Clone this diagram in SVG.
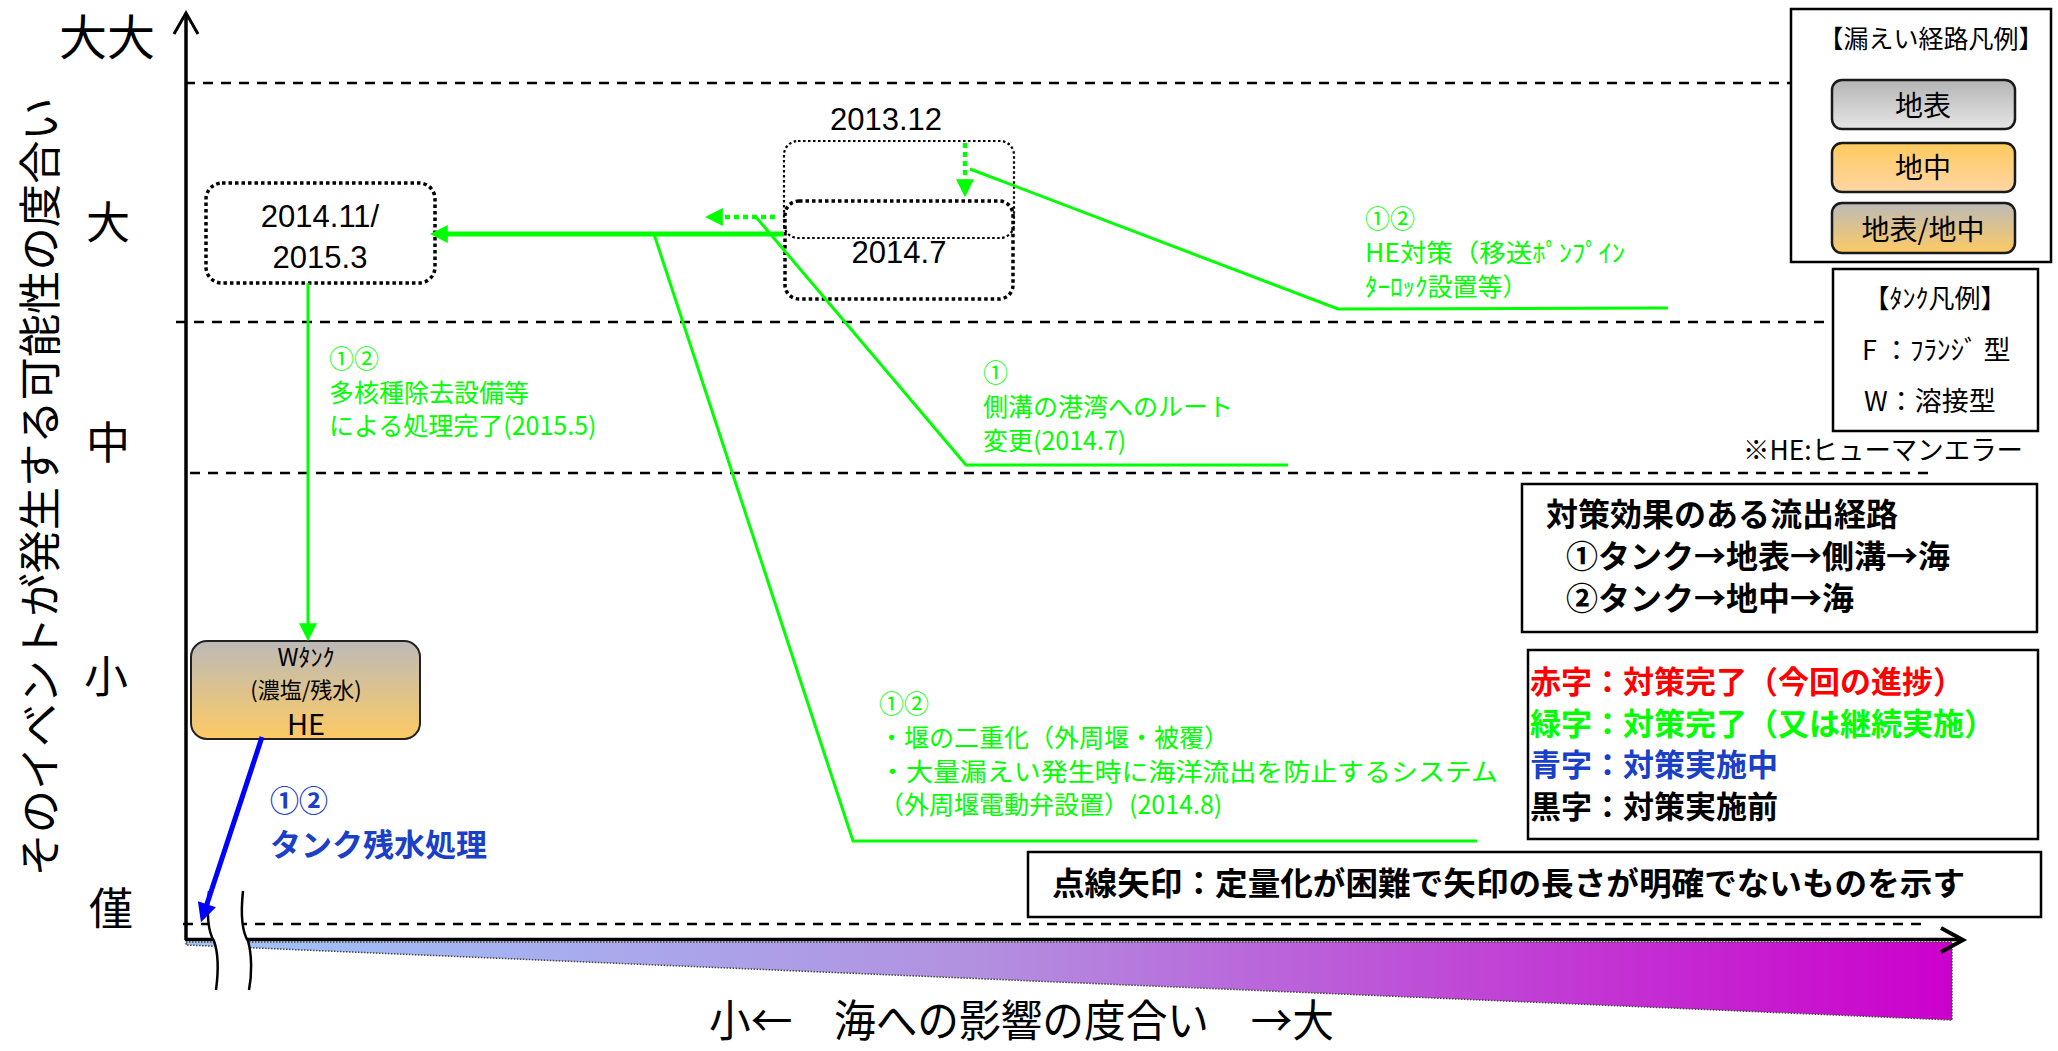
<svg xmlns="http://www.w3.org/2000/svg" width="2058" height="1051" viewBox="0 0 2058 1051">
<defs>
<style>
.jp{font-family:"Noto Sans CJK JP","Noto Sans",sans-serif}
.num{font-family:"Liberation Sans",Arial,sans-serif;font-size:31px;fill:#000;text-anchor:middle}
.grid{stroke:#000;stroke-width:2.5;stroke-dasharray:10 8;fill:none}
.g{fill:#00ff00}
.gl{stroke:#00ff00;stroke-width:3;fill:none}
.lbl{font-size:25px}
.axl{font-size:44px;fill:#000;text-anchor:middle;dominant-baseline:central}
.box{fill:#fff;stroke:#000;stroke-width:2.5}
.b{font-weight:bold}
.btn{stroke:#1a1a1a;stroke-width:2.5}
.btxt{font-size:28px;fill:#000;text-anchor:middle}
.dotA{fill:none;stroke:#000;stroke-width:2.2;stroke-dasharray:2.5 2.5}
.dotB{fill:none;stroke:#000;stroke-width:3.5;stroke-dasharray:3.5 3}
</style>
<linearGradient id="gGray" x1="0" y1="0" x2="0" y2="1"><stop offset="0" stop-color="#b4b4b4"/><stop offset="1" stop-color="#e6e6e6"/></linearGradient>
<linearGradient id="gOrange" x1="0" y1="0" x2="0" y2="1"><stop offset="0" stop-color="#ffca5c"/><stop offset="1" stop-color="#ffd6a6"/></linearGradient>
<linearGradient id="gMix" x1="0" y1="0" x2="0" y2="1"><stop offset="0" stop-color="#bcbab8"/><stop offset="1" stop-color="#fdca64"/></linearGradient>
<linearGradient id="gWedge" x1="186" y1="0" x2="1952" y2="0" gradientUnits="userSpaceOnUse"><stop offset="0" stop-color="#9ec6fa"/><stop offset="0.45" stop-color="#b290e0"/><stop offset="1" stop-color="#cc00cc"/></linearGradient>
<marker id="ag" viewBox="0 0 10 10" refX="1" refY="5" markerWidth="18" markerHeight="18" markerUnits="userSpaceOnUse" orient="auto"><path d="M0,0L10,5L0,10z" fill="#00ff00"/></marker>
<marker id="ab" viewBox="0 0 10 10" refX="1" refY="5" markerWidth="20" markerHeight="19" markerUnits="userSpaceOnUse" orient="auto"><path d="M0,0L10,5L0,10z" fill="#0000ff"/></marker>
</defs>
<rect width="2058" height="1051" fill="#fff"/>

<g id="axes">
<polygon points="186,942 1952,942 1952,1020 186,945" fill="url(#gWedge)" stroke="#444" stroke-width="1.5" stroke-dasharray="1.5 1.5"/>
<line x1="186" y1="14" x2="186" y2="940" stroke="#000" stroke-width="3.5"/>
<polyline points="174,34 186,13 198,34" fill="none" stroke="#000" stroke-width="3"/>
<line x1="185" y1="939.5" x2="1962" y2="939.5" stroke="#000" stroke-width="3.5"/>
<polyline points="1941,928 1963,940 1941,952" fill="none" stroke="#000" stroke-width="4"/>
<line class="grid" x1="185" y1="83" x2="1791" y2="83"/>
<line class="grid" x1="176" y1="322" x2="1832" y2="322"/>
<line class="grid" x1="190" y1="473" x2="1931" y2="473"/>
<line class="grid" x1="183" y1="924" x2="1927" y2="924"/>
<path d="M209,891 C207,910 207,930 214,941 C219,955 218,975 216,990 L249,990 C252,975 252,955 248,941 C241,930 241,910 243,891 Z" fill="#fff"/>
<path d="M209,891 C207,910 207,930 214,941 C219,955 218,975 216,990" fill="none" stroke="#000" stroke-width="2.5"/>
<path d="M243,891 C241,910 241,930 248,941 C252,955 252,975 249,990" fill="none" stroke="#000" stroke-width="2.5"/>
<text class="jp" font-size="43" fill="#000" transform="translate(37,487) rotate(-90)" text-anchor="middle" dominant-baseline="central" textLength="779" lengthAdjust="spacingAndGlyphs">そのイベントが発生する可能性の度合い</text>
<text class="jp" font-size="48" fill="#000" x="107" y="34" text-anchor="middle" dominant-baseline="central">大大</text>
<text class="jp axl" x="108" y="220">大</text>
<text class="jp axl" x="108" y="440">中</text>
<text class="jp axl" x="106" y="674">小</text>
<text class="jp axl" x="111" y="906">僅</text>
<text class="jp" font-size="44" fill="#000" x="709" y="1037" textLength="625" lengthAdjust="spacingAndGlyphs">小←　海への影響の度合い　→大</text>
</g>

<g id="node-2014-11">
<rect class="dotB" x="206" y="183" width="229" height="100" rx="16"/>
<text class="num" x="320" y="227">2014.11/</text>
<text class="num" x="320" y="268">2015.3</text>
</g>

<g id="node-2013-12">
<rect class="dotA" x="784" y="141" width="230" height="97" rx="14"/>
<text class="num" x="886" y="130">2013.12</text>
</g>

<g id="node-2014-7">
<rect class="dotB" x="785" y="201" width="228" height="98" rx="14"/>
<text class="num" x="899" y="263">2014.7</text>
</g>

<g id="node-wtank">
<rect x="191" y="641" width="229" height="98" rx="16" fill="url(#gMix)" stroke="#222" stroke-width="2"/>
<text class="jp" font-size="24" fill="#000" x="306" y="666" text-anchor="middle">Wﾀﾝｸ</text>
<text class="jp" font-size="22" fill="#000" x="306" y="698" text-anchor="middle">(濃塩/残水)</text>
<text class="jp" font-size="29" fill="#000" x="306" y="735" text-anchor="middle">HE</text>
</g>

<g id="connectors">
<line x1="784" y1="234" x2="446" y2="234" stroke="#00ff00" stroke-width="5" marker-end="url(#ag)"/>
<line x1="775" y1="217" x2="721" y2="217" stroke="#00ff00" stroke-width="4.5" stroke-dasharray="5 4" marker-end="url(#ag)"/>
<line x1="965" y1="143" x2="965" y2="181" stroke="#00ff00" stroke-width="4.5" stroke-dasharray="5 4" marker-end="url(#ag)"/>
<line x1="308" y1="283" x2="308" y2="625" stroke="#00ff00" stroke-width="3" marker-end="url(#ag)"/>
<polyline class="gl" points="970,169 1338,309 1668,308"/>
<polyline class="gl" points="756,217 966,465 1288,465"/>
<polyline class="gl" points="654,234 853,841 1477,841"/>
<line x1="262" y1="737" x2="206.3" y2="906" stroke="#0000ff" stroke-width="5" marker-end="url(#ab)"/>
</g>

<g id="label-he">
<text class="jp lbl g" x="1365" y="228">①②</text>
<text class="jp lbl g" x="1365" y="262" textLength="260" lengthAdjust="spacingAndGlyphs">HE対策（移送ﾎﾟﾝﾌﾟｲﾝ</text>
<text class="jp lbl g" x="1365" y="296">ﾀｰﾛｯｸ設置等）</text>
</g>
<g id="label-alps">
<text class="jp lbl g" x="329" y="368">①②</text>
<text class="jp lbl g" x="329" y="402">多核種除去設備等</text>
<text class="jp lbl g" x="329" y="435">による処理完了(2015.5)</text>
</g>
<g id="label-route">
<text class="jp lbl g" x="983" y="382">①</text>
<text class="jp lbl g" x="983" y="416">側溝の港湾へのルート</text>
<text class="jp lbl g" x="983" y="450">変更(2014.7)</text>
</g>
<g id="label-weir">
<text class="jp lbl g" x="879" y="713">①②</text>
<text class="jp lbl g" x="879" y="747">・堰の二重化（外周堰・被覆）</text>
<text class="jp lbl g" x="879" y="781" textLength="619" lengthAdjust="spacingAndGlyphs">・大量漏えい発生時に海洋流出を防止するシステム</text>
<text class="jp lbl g" x="879" y="814">（外周堰電動弁設置）(2014.8)</text>
</g>
<g id="label-tank">
<text class="jp b" font-size="29" fill="#1a40c8" x="270" y="812">①②</text>
<text class="jp b" font-size="31" fill="#1a40c8" x="270" y="856">タンク残水処理</text>
</g>

<g id="legend-route">
<rect class="box" x="1791" y="9" width="260" height="253"/>
<text class="jp" font-size="25" fill="#000" x="1931" y="48" text-anchor="middle">【漏えい経路凡例】</text>
<rect class="btn" x="1832" y="80" width="183" height="49" rx="10" fill="url(#gGray)"/>
<text class="jp btxt" x="1923" y="116">地表</text>
<rect class="btn" x="1832" y="143" width="183" height="49" rx="10" fill="url(#gOrange)"/>
<text class="jp btxt" x="1923" y="178">地中</text>
<rect class="btn" x="1832" y="203" width="183" height="50" rx="10" fill="url(#gMix)"/>
<text class="jp btxt" x="1923" y="240">地表/地中</text>
</g>

<g id="legend-tank">
<rect class="box" x="1833" y="269" width="205" height="162"/>
<text class="jp" font-size="26" fill="#000" x="1935" y="308" text-anchor="middle">【ﾀﾝｸ凡例】</text>
<text class="jp" font-size="27" fill="#000" x="1862" y="360">F ：ﾌﾗﾝｼﾞ 型</text>
<text class="jp" font-size="27" fill="#000" x="1864" y="411">W：溶接型</text>
</g>
<text id="note-he" class="jp" font-size="27" fill="#000" x="1743" y="460" textLength="280" lengthAdjust="spacingAndGlyphs">※HE:ヒューマンエラー</text>

<g id="legend-path">
<rect class="box" x="1522" y="484" width="515" height="148"/>
<text class="jp b" font-size="32" fill="#000" x="1546" y="526">対策効果のある流出経路</text>
<text class="jp b" font-size="32" fill="#000" x="1566" y="568">①タンク→地表→側溝→海</text>
<text class="jp b" font-size="32" fill="#000" x="1566" y="610">②タンク→地中→海</text>
</g>

<g id="legend-color">
<rect class="box" x="1528" y="650" width="510" height="189"/>
<text class="jp b" font-size="31" fill="#ff0000" x="1530" y="693">赤字：対策完了（今回の進捗）</text>
<text class="jp b" font-size="31" fill="#00ff00" x="1530" y="735">緑字：対策完了（又は継続実施）</text>
<text class="jp b" font-size="31" fill="#1a40c8" x="1530" y="776">青字：対策実施中</text>
<text class="jp b" font-size="31" fill="#000" x="1530" y="818">黒字：対策実施前</text>
</g>

<g id="legend-dotted">
<rect class="box" x="1028" y="852" width="1013" height="65"/>
<text class="jp b" font-size="32" fill="#000" x="1052" y="895" textLength="913" lengthAdjust="spacingAndGlyphs">点線矢印：定量化が困難で矢印の長さが明確でないものを示す</text>
</g>
</svg>
